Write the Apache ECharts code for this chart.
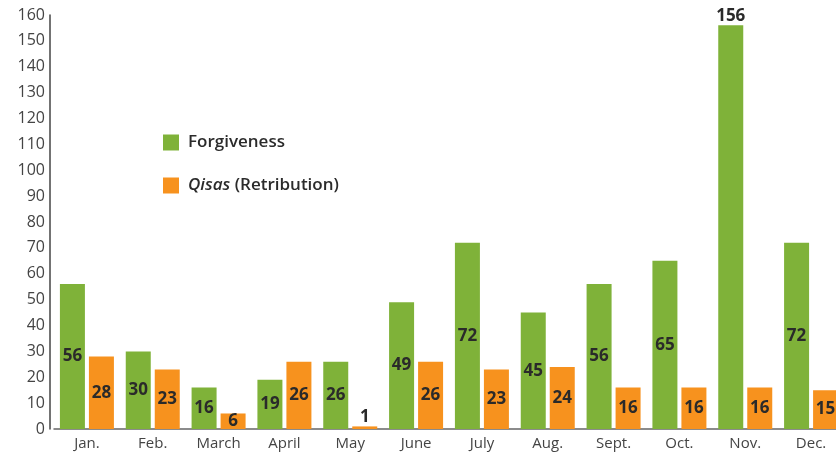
<!DOCTYPE html>
<html>
<head>
<meta charset="utf-8">
<script src="https://cdn.jsdelivr.net/npm/echarts@6/dist/echarts.min.js"></script>
<style>
  html, body { margin: 0; padding: 0; background: #fff; overflow: hidden; }
  /* the chart runs off the right edge in the original, so the box is a bit wider than the window */
  #main { width: 850px; height: 456px; }
</style>
</head>
<body>
<div id="main"></div>
<script>
var months = ["Jan.", "Feb.", "March", "April", "May", "June", "July", "Aug.", "Sept.", "Oct.", "Nov.", "Dec."];
var forgiveness = [56, 30, 16, 19, 26, 49, 72, 45, 56, 65, 156, 72];
var qisas = [28, 23, 6, 26, 1, 26, 23, 24, 16, 16, 16, 15];
// labels that sit above the bar instead of inside it
var forgivenessTop = [10];
var qisasTop = [4];

var labelFont = "'Open Sans', 'DejaVu Sans', sans-serif";

function toItems(values, topIdx) {
  return values.map(function (v, i) {
    if (topIdx.indexOf(i) >= 0) {
      return { value: v, label: { position: "top", distance: 1 } };
    }
    return v;
  });
}

var myChart = echarts.init(document.getElementById("main"));
var option = {
  animation: false,
  grid: { left: 54, top: 15, width: 790, bottom: 27, containLabel: false },
  legend: {
    orient: "vertical",
    left: 163,
    top: 134,
    padding: 0,
    itemWidth: 16,
    itemHeight: 16,
    itemGap: 26,
    icon: "rect",
    selectedMode: false,
    textStyle: {
      fontFamily: labelFont,
      fontSize: 17,
      fontWeight: 600,
      color: "#2b2b2b",
      lineHeight: 16,
      padding: [0, 0, 0, 4],
      rich: {
        it: { fontStyle: "italic", fontWeight: 600, fontSize: 17, lineHeight: 16, fontFamily: labelFont, color: "#2b2b2b" },
        n: { fontWeight: 600, fontSize: 17, lineHeight: 16, fontFamily: labelFont, color: "#2b2b2b" }
      }
    },
    formatter: function (name) {
      if (name === "Qisas (Retribution)") return "{it|Qisas} {n|(Retribution)}";
      return "{n|" + name + "}";
    },
    data: ["Forgiveness", "Qisas (Retribution)"]
  },
  xAxis: {
    type: "category",
    data: months,
    axisLine: { lineStyle: { color: "#666", width: 1.5 } },
    axisTick: { show: false },
    axisLabel: { color: "#444", fontSize: 15, fontFamily: labelFont, margin: 7 }
  },
  yAxis: {
    type: "value",
    min: 0,
    max: 160,
    interval: 10,
    offset: 4,
    splitLine: { show: false },
    axisLine: { show: true, lineStyle: { color: "#444", width: 1.5 } },
    axisTick: { show: false },
    axisLabel: { color: "#444", fontSize: 16, fontFamily: labelFont, margin: 5 }
  },
  series: [
    {
      name: "Forgiveness",
      type: "bar",
      data: toItems(forgiveness, forgivenessTop),
      barWidth: 25,
      barGap: "16%",
      itemStyle: { color: "#7fb239" },
      label: {
        show: true,
        position: "inside",
        color: "#2a2a2a",
        fontFamily: labelFont,
        fontWeight: "bold",
        fontSize: 17
      }
    },
    {
      name: "Qisas (Retribution)",
      type: "bar",
      data: toItems(qisas, qisasTop),
      barWidth: 25,
      itemStyle: { color: "#f7921e" },
      label: {
        show: true,
        position: "inside",
        color: "#2a2a2a",
        fontFamily: labelFont,
        fontWeight: "bold",
        fontSize: 17
      }
    }
  ]
};
myChart.setOption(option);
</script>
</body>
</html>
